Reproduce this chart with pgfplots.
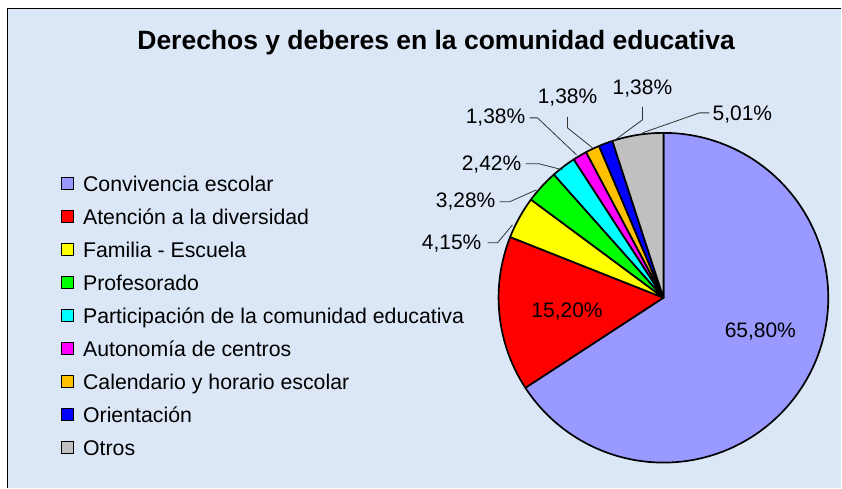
\documentclass[border=0pt]{standalone}
\usepackage{fontspec}
\setmainfont{Liberation Sans}
\usepackage{pgfplots}
\usepackage{pgfplotstable}
\pgfplotsset{compat=1.18}

\definecolor{bgblue}{RGB}{219,231,247}
\definecolor{conv}{RGB}{153,153,255}
\definecolor{aten}{RGB}{255,0,0}
\definecolor{fam}{RGB}{255,255,0}
\definecolor{prof}{RGB}{0,255,0}
\definecolor{part}{RGB}{0,255,255}
\definecolor{auto}{RGB}{255,0,255}
\definecolor{cal}{RGB}{255,192,0}
\definecolor{ori}{RGB}{0,0,255}
\definecolor{otros}{RGB}{192,192,192}

% share of each topic, clockwise from 12 o'clock
\pgfplotstableread{
value color
65.80 conv
15.20 aten
4.15  fam
3.28  prof
2.42  part
1.38  auto
1.38  cal
1.38  ori
5.01  otros
}\piedata

\pgfplotsset{sq legend/.style={legend image code/.code={%
  \draw[##1] (0pt,-6pt) rectangle (12pt,6pt);}}}

\begin{document}
\begin{tikzpicture}
\begin{axis}[
  x=1pt, y=1pt,
  xmin=0, xmax=842, ymin=0, ymax=488,
  hide axis, clip=false,
  legend cell align=left,
  legend style={draw=none, fill=none, at={(axis cs:61,311.5)}, anchor=north west,
    inner sep=0pt, outer sep=0pt, row sep=18pt, column sep=9pt,
    font=\fontsize{21.3}{25}\selectfont,
    nodes={inner sep=0pt, text height=15pt, text depth=0pt}},
]
% background
\fill[white] (axis cs:0,0) rectangle (axis cs:842,488);
\fill[bgblue] (axis cs:7,0) rectangle (axis cs:842,479);
\draw[black, line width=1.5pt] (axis cs:7.5,0) -- (axis cs:7.5,479.25) -- (axis cs:842,479.25);

% pie slices
\gdef\startang{90}
\foreach \i in {0,...,8}{
  \pgfplotstablegetelem{\i}{value}\of\piedata \let\val\pgfplotsretval
  \pgfplotstablegetelem{\i}{color}\of\piedata \let\col\pgfplotsretval
  \pgfmathsetmacro\endang{\startang-3.6*\val}
  \edef\temp{\noexpand\filldraw[fill=\col, draw=black, line width=1.7pt, line join=round]
    (axis cs:664,190) -- ++(\startang:165pt) arc[start angle=\startang, end angle=\endang, radius=165pt] -- cycle;}
  \temp
  \xdef\startang{\endang}
}

% leader lines
\begin{scope}[draw=black!80, line width=0.8pt]
\draw (axis cs:488,245) -- (axis cs:498,245) -- (axis cs:513,263);
\draw (axis cs:500,286) -- (axis cs:510,286) -- (axis cs:537,298);
\draw (axis cs:526,324) -- (axis cs:540,324) -- (axis cs:563,318);
\draw (axis cs:530,370) -- (axis cs:538,370) -- (axis cs:577,333);
\draw (axis cs:568,371) -- (axis cs:568,360) -- (axis cs:593,340);
\draw (axis cs:643,381) -- (axis cs:643,368) -- (axis cs:613,346);
\draw (axis cs:710,375) -- (axis cs:700,375) -- (axis cs:643,355);
\end{scope}

% data labels
\begin{scope}[every node/.style={font=\fontsize{21}{25}\selectfont, anchor=base, inner sep=0pt}]
\node at (axis cs:761,150.5) {65,80\%};
\node at (axis cs:567.5,170.5) {15,20\%};
\node at (axis cs:452,238.5) {4,15\%};
\node at (axis cs:466,280.5) {3,28\%};
\node at (axis cs:492,317.5) {2,42\%};
\node at (axis cs:496,364.5) {1,38\%};
\node at (axis cs:568,384.5) {1,38\%};
\node at (axis cs:643,393.5) {1,38\%};
\node at (axis cs:743,367.5) {5,01\%};
\end{scope}

% title
\node[font=\fontsize{26.5}{30}\selectfont\bfseries, anchor=base, inner sep=0pt]
  at (axis cs:436.5,438.5) {Derechos y deberes en la comunidad educativa};

% legend
\addlegendimage{sq legend, fill=conv, draw=black, line width=1.2pt}
\addlegendentry{Convivencia escolar}
\addlegendimage{sq legend, fill=aten, draw=black, line width=1.2pt}
\addlegendentry{Atención a la diversidad}
\addlegendimage{sq legend, fill=fam, draw=black, line width=1.2pt}
\addlegendentry{Familia - Escuela}
\addlegendimage{sq legend, fill=prof, draw=black, line width=1.2pt}
\addlegendentry{Profesorado}
\addlegendimage{sq legend, fill=part, draw=black, line width=1.2pt}
\addlegendentry{Participación de la comunidad educativa}
\addlegendimage{sq legend, fill=auto, draw=black, line width=1.2pt}
\addlegendentry{Autonomía de centros}
\addlegendimage{sq legend, fill=cal, draw=black, line width=1.2pt}
\addlegendentry{Calendario y horario escolar}
\addlegendimage{sq legend, fill=ori, draw=black, line width=1.2pt}
\addlegendentry{Orientación}
\addlegendimage{sq legend, fill=otros, draw=black, line width=1.2pt}
\addlegendentry{Otros}
\end{axis}
\end{tikzpicture}
\end{document}
